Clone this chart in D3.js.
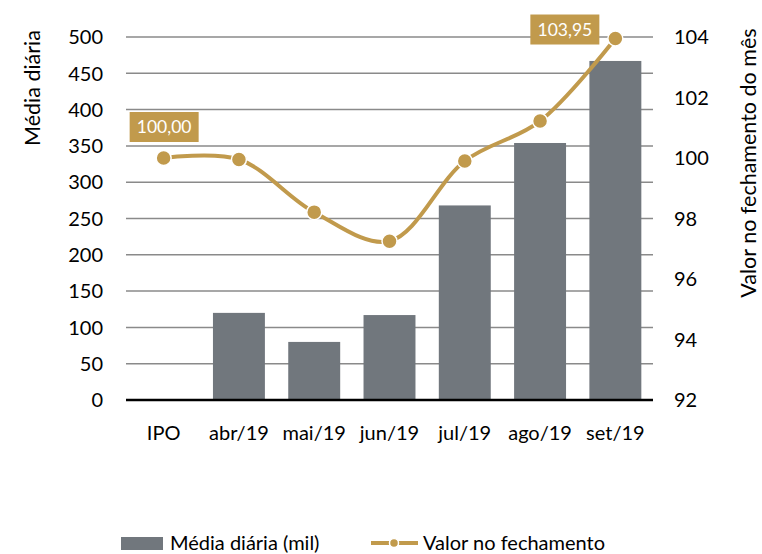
<!DOCTYPE html>
<html><head><meta charset="utf-8">
<script src="https://cdn.jsdelivr.net/npm/d3@7"></script>
<style>body{margin:0;background:#fff}svg{display:block;font-family:Lato,"Open Sans",sans-serif}</style>
</head><body><svg id="c" width="762" height="554"></svg>
<script>
const categories = ["IPO","abr/19","mai/19","jun/19","jul/19","ago/19","set/19"];
const mediaDiaria = [null,120,80,117,268,354,467];
const valorFechamento = [100.00,99.95,98.21,97.25,99.90,101.22,103.95];
const leftTicks = [0,50,100,150,200,250,300,350,400,450,500];
const rightTicks = [92,94,96,98,100,102,104];
const labeled = [{i:0,text:"100,00"},{i:6,text:"103,95"}];

const svg = d3.select("#c");
const L=126,R=653,T=37,B=400;
const x = d3.scaleBand().domain(categories).range([L,R]).paddingInner(0.31).paddingOuter(0.155);
const xc = d3.scaleBand().domain(categories).range([L,R]);
const yL = d3.scaleLinear().domain([0,500]).range([B,T]);
const yR = d3.scaleLinear().domain([92,104]).range([B,T]);
const gold="#c19a4c", gray="#71777d";
const FS=20;

// gridlines
svg.append("g").selectAll("line").data(leftTicks.filter(d=>d>0)).join("line")
 .attr("x1",L).attr("x2",R).attr("y1",d=>yL(d)).attr("y2",d=>yL(d))
 .attr("stroke","#8a8a8a").attr("stroke-width",1.5);

// left axis labels
svg.append("g").selectAll("text").data(leftTicks).join("text")
 .attr("x",103).attr("y",d=>yL(d)).attr("dy","0.36em").attr("text-anchor","end")
 .attr("font-size",FS).attr("fill","#000").text(d=>d);
// right axis labels
svg.append("g").selectAll("text").data(rightTicks).join("text")
 .attr("x",674).attr("y",d=>yR(d)).attr("dy","0.36em").attr("text-anchor","start")
 .attr("font-size",FS).attr("fill","#000").text(d=>d);

// bars
svg.append("g").selectAll("rect").data(categories.map((c,i)=>({c,v:mediaDiaria[i]})).filter(d=>d.v!=null)).join("rect")
 .attr("x",d=>x(d.c)).attr("width",x.bandwidth()).attr("y",d=>yL(d.v)).attr("height",d=>B-yL(d.v))
 .attr("fill",gray);

// baseline
svg.append("line").attr("x1",L).attr("x2",R).attr("y1",B).attr("y2",B).attr("stroke","#000").attr("stroke-width",2.5);

// category labels
svg.append("g").selectAll("text").data(categories).join("text")
 .attr("x",d=>xc(d)+xc.bandwidth()/2).attr("y",433).attr("dy","0.36em").attr("text-anchor","middle")
 .attr("font-size",FS).attr("fill","#000").text(d=>d);

// line
const pts = categories.map((c,i)=>[xc(c)+xc.bandwidth()/2, yR(valorFechamento[i])]);
svg.append("path").attr("d",d3.line().curve(d3.curveCatmullRom.alpha(0.5))(pts))
 .attr("fill","none").attr("stroke",gold).attr("stroke-width",4);
svg.append("g").selectAll("circle").data(pts).join("circle")
 .attr("cx",d=>d[0]).attr("cy",d=>d[1]).attr("r",7.5).attr("fill",gold).attr("stroke","#fff").attr("stroke-width",1.5);

// data labels
labeled.forEach(l=>{
  const p=pts[l.i];
  const cx = l.i===0 ? p[0]+0.5 : p[0]-50.5;
  const cy = l.i===0 ? p[1]-31 : p[1]-9;
  const g=svg.append("g");
  g.append("rect").attr("x",cx-34.5).attr("y",cy-15).attr("width",69).attr("height",30).attr("fill",gold);
  g.append("text").attr("x",cx).attr("y",cy).attr("dy","0.36em").attr("text-anchor","middle")
   .attr("font-size",17.5).attr("fill","#fff").text(l.text);
});

// axis titles
svg.append("text").attr("transform","translate(32,88) rotate(-90)").attr("text-anchor","middle")
 .attr("dy","0.36em").attr("font-size",21.5).text("Média diária");
svg.append("text").attr("transform","translate(748,163) rotate(-90)").attr("text-anchor","middle")
 .attr("dy","0.36em").attr("font-size",21.5).text("Valor no fechamento do mês");

// legend
svg.append("rect").attr("x",121).attr("y",537).attr("width",42).attr("height",13).attr("fill",gray);
svg.append("text").attr("x",170).attr("y",543).attr("dy","0.36em").attr("font-size",FS).text("Média diária (mil)");
svg.append("line").attr("x1",371).attr("x2",418).attr("y1",543).attr("y2",543).attr("stroke",gold).attr("stroke-width",4);
svg.append("circle").attr("cx",394).attr("cy",543).attr("r",4.5).attr("fill",gold).attr("stroke","#fff").attr("stroke-width",1.5);
svg.append("text").attr("x",423).attr("y",543).attr("dy","0.36em").attr("font-size",FS).text("Valor no fechamento");
</script></body></html>
